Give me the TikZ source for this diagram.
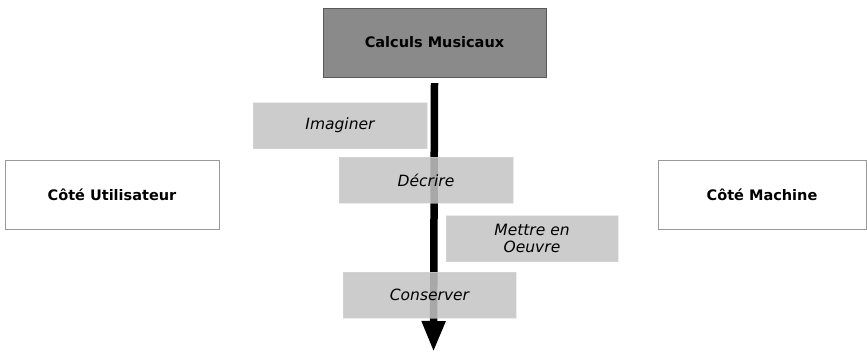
\documentclass[tikz,border=0pt]{standalone}
\usepackage{fontspec}
\setmainfont{DejaVu Sans}
\usetikzlibrary{arrows.meta}
\definecolor{topgrey}{HTML}{8A8A8A}
\definecolor{stepgrey}{HTML}{C4C4C4}
\tikzset{
  topbox/.style={draw=black!65, fill=topgrey, minimum width=223pt, minimum height=69pt, font=\bfseries\fontsize{14.5}{16}\selectfont},
  stepbox/.style={fill=stepgrey, fill opacity=0.86, text opacity=1, draw=white!85!black, draw opacity=0.5, minimum width=174pt, minimum height=46pt, align=center, inner sep=1pt, font=\itshape\fontsize{15.5}{17}\selectfont},
  sidebox/.style={draw=black!40, fill=white, minimum width=214pt, minimum height=69pt, font=\bfseries\fontsize{14.5}{16}\selectfont}
}
\begin{document}
\begin{tikzpicture}[x=1pt,y=-1pt]
  % Rahmen festlegen
  \useasboundingbox (0,0) rectangle (867,353);

  % Oberer Kasten
  \node[topbox] (calc) at (434.5,42.5) {Calculs Musicaux};

  % Pfeil nach unten
  \coordinate (fin) at (433.5,352);
  \draw[line width=7.5pt, -{Triangle[width=22pt,length=31pt]}] ([yshift=-6pt]calc.south) -- (fin);

  % Seitliche Kaesten
  \node[sidebox] (user) at (112,194.5) {Côté Utilisateur};
  \node[sidebox, minimum width=208pt] (machine) at (762,194.5) {Côté Machine};

  % Schritte
  \node[stepbox] (imag) at (340,125.5) {Imaginer};
  \node[stepbox] (decr) at (426,180) {Décrire};
  \node[stepbox, minimum width=172pt] (mett) at (532,238.5) {Mettre en\\Oeuvre};
  \node[stepbox, minimum width=173pt] (cons) at (429.5,295) {Conserver};
\end{tikzpicture}
\end{document}
